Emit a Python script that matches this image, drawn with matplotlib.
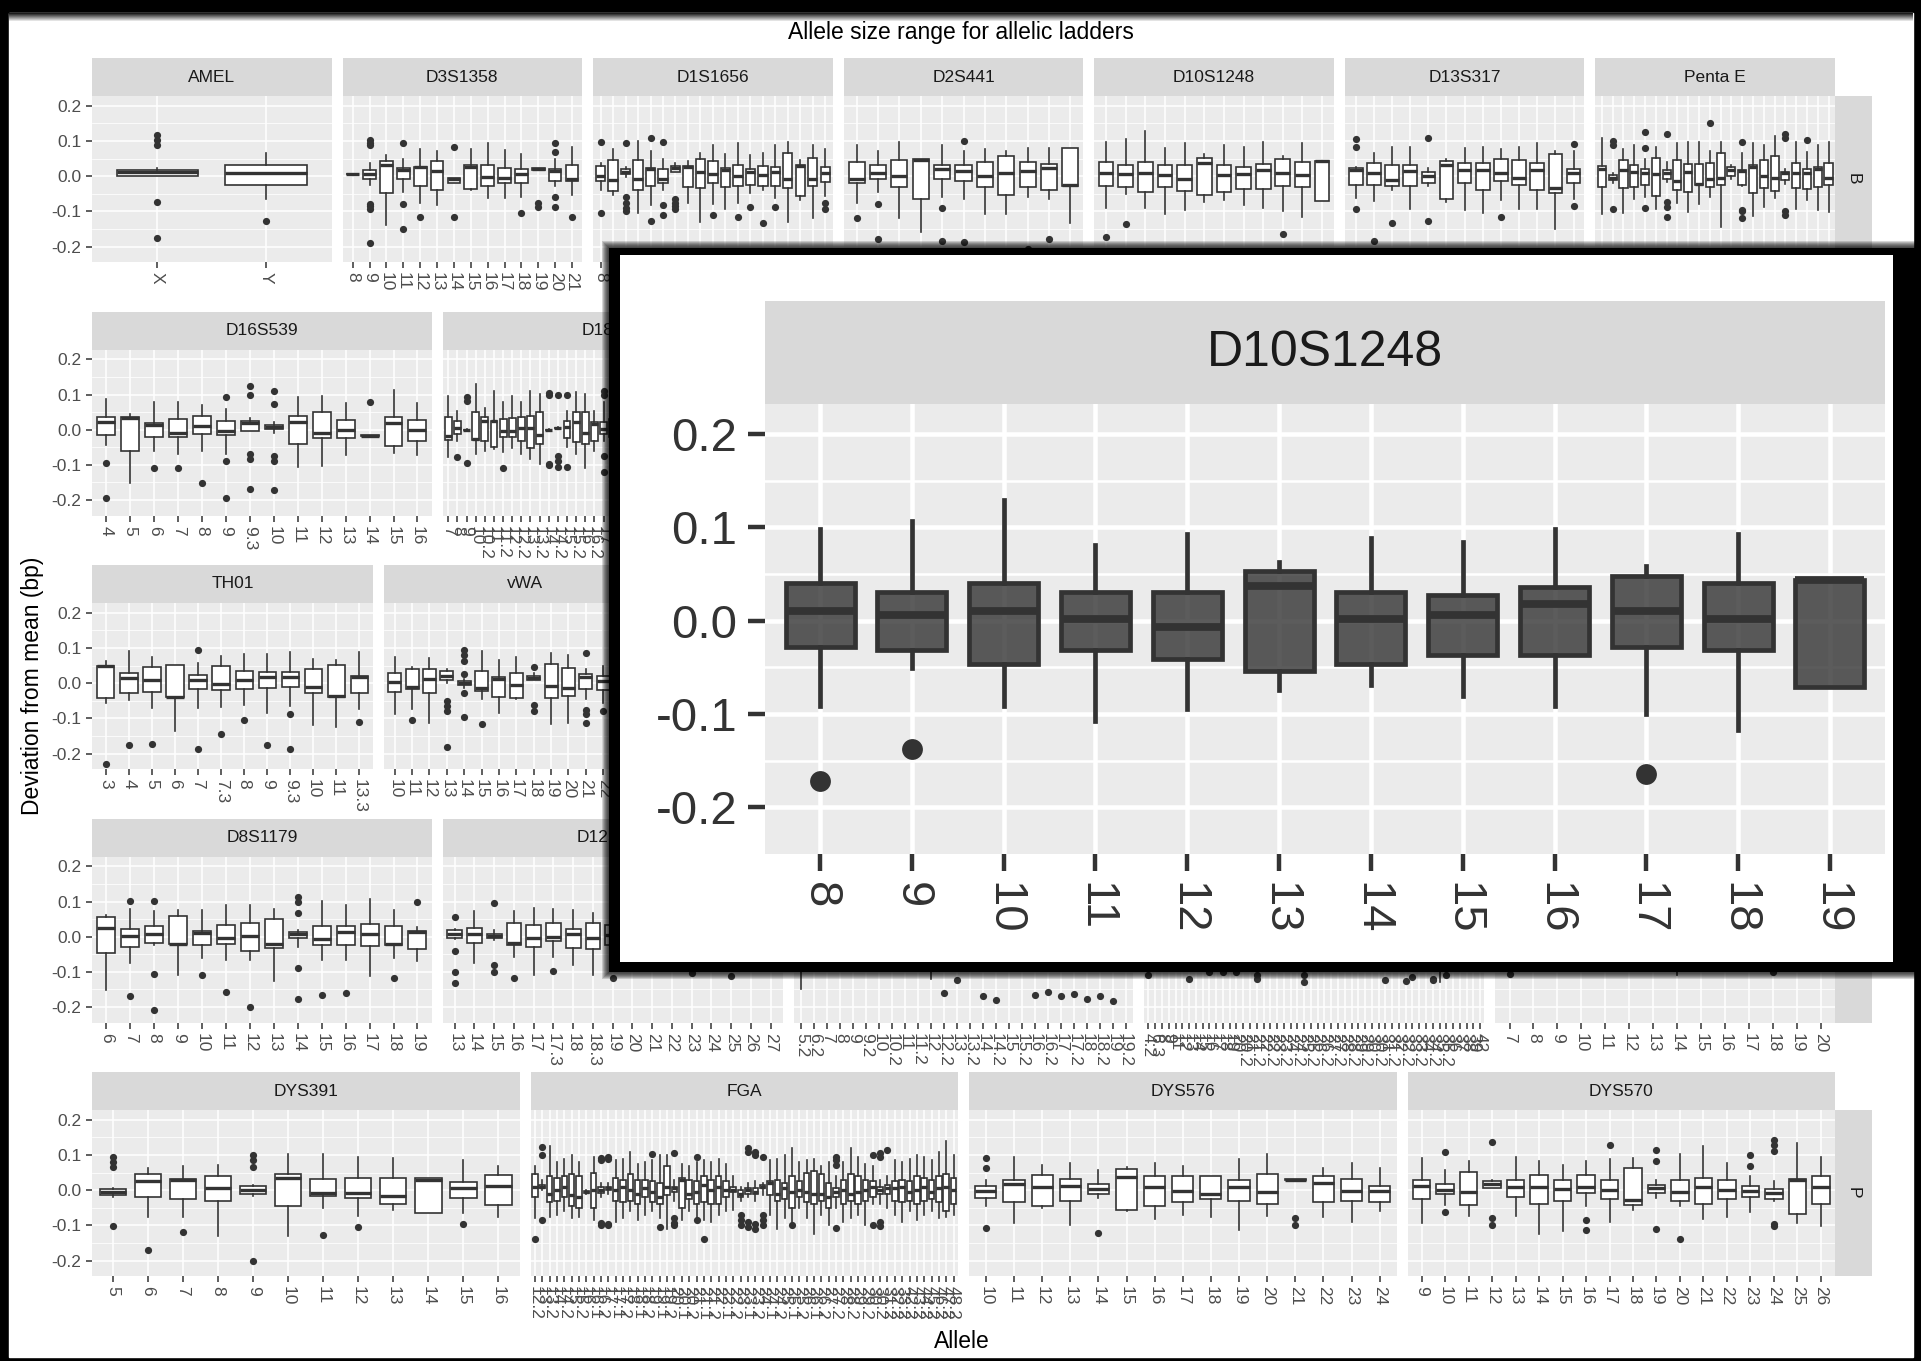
import matplotlib
matplotlib.use("Agg")
import matplotlib.pyplot as plt
from matplotlib.patches import Rectangle

plt.rcParams['font.family'] = ['Liberation Sans', 'DejaVu Sans']

# ---------------------------------------------------------------------------
# data: for every locus the allele labels, box stats (lo, q1, med, q3, hi)
# and the outliers per allele (deviation from mean, bp)
# ---------------------------------------------------------------------------
AMEL_alleles = ['X', 'Y']
AMEL_box = [(0.000, 0.000, 0.013, 0.019, 0.024), (-0.065, -0.025, 0.010, 0.032, 0.067)]
AMEL_out = [[0.116, 0.104, 0.090, -0.074, -0.177], [-0.127]]

D3S1358_alleles = ['8', '9', '10', '11', '12', '13', '14', '15', '16', '17', '18', '19', '20', '21']
D3S1358_box = [
    (0.005, 0.005, 0.005, 0.005, 0.005), (-0.026, -0.009, 0.006, 0.019, 0.038),
    (-0.139, -0.049, 0.031, 0.043, 0.060), (-0.045, -0.009, 0.017, 0.022, 0.050),
    (-0.076, -0.027, 0.025, 0.027, 0.076), (-0.082, -0.040, 0.015, 0.043, 0.071),
    (-0.019, -0.019, -0.009, -0.005, -0.005), (-0.040, -0.037, 0.025, 0.033, 0.076),
    (-0.063, -0.027, -0.002, 0.031, 0.093), (-0.063, -0.019, -0.004, 0.024, 0.074),
    (-0.059, -0.019, 0.006, 0.020, 0.064), (0.018, 0.018, 0.021, 0.023, 0.023),
    (-0.027, -0.014, 0.015, 0.020, 0.050), (-0.054, -0.014, -0.008, 0.031, 0.083)]
D3S1358_out = [[], [0.102, 0.095, 0.088, -0.078, -0.086, -0.094, -0.190], [], [0.093, -0.078, -0.149],
               [-0.116], [], [0.083, -0.116], [], [], [], [-0.106], [-0.075, -0.088],
               [0.093, 0.069, -0.059, -0.089], [-0.116]]

D1S1656_alleles = ['8', '9', '10', '11', '12', '13', '14', '14.3', '15', '15.3', '16', '16.3',
                   '17', '17.3', '18', '18.3', '19', '19.3', '20.3']
D1S1656_box = [
    (-0.040, -0.013, 0.000, 0.028, 0.038), (-0.054, -0.043, -0.011, 0.045, 0.076),
    (-0.002, 0.005, 0.012, 0.020, 0.027), (-0.104, -0.038, -0.007, 0.045, 0.100),
    (-0.082, -0.027, 0.020, 0.024, 0.071), (-0.040, -0.019, -0.007, 0.020, 0.050),
    (0.012, 0.012, 0.024, 0.028, 0.038), (-0.075, -0.030, 0.027, 0.028, 0.043),
    (-0.130, -0.035, 0.012, 0.050, 0.067), (-0.078, -0.019, 0.006, 0.043, 0.090),
    (-0.092, -0.030, 0.017, 0.024, 0.064), (-0.075, -0.027, 0.000, 0.033, 0.093),
    (-0.049, -0.024, 0.012, 0.020, 0.060), (-0.040, -0.027, 0.003, 0.028, 0.067),
    (-0.063, -0.027, 0.012, 0.027, 0.088), (-0.130, -0.035, -0.009, 0.067, 0.098),
    (-0.068, -0.057, 0.028, 0.031, 0.045), (-0.120, -0.027, -0.009, 0.053, 0.088),
    (-0.057, -0.016, 0.009, 0.025, 0.076)]
D1S1656_out = [[0.098, -0.104], [], [0.093, -0.060, -0.075, -0.090, -0.100], [], [0.110, -0.128],
               [0.098, -0.082, -0.111], [-0.065, -0.075, -0.085, -0.092], [], [], [-0.111], [],
               [-0.116], [-0.089], [-0.133], [-0.089], [], [], [], [-0.075, -0.094]]

D2S441_alleles = ['9', '10', '11', '11.3', '12', '13', '14', '15', '16', '17', '18']
D2S441_box = [
    (-0.075, -0.019, -0.007, 0.041, 0.088), (-0.045, -0.009, 0.008, 0.031, 0.071),
    (-0.120, -0.032, 0.000, 0.045, 0.098), (-0.158, -0.065, 0.047, 0.048, 0.048),
    (-0.059, -0.009, 0.020, 0.031, 0.088), (-0.065, -0.014, 0.015, 0.031, 0.071),
    (-0.108, -0.032, 0.000, 0.041, 0.076), (-0.108, -0.054, 0.009, 0.058, 0.071),
    (-0.059, -0.032, 0.015, 0.041, 0.080), (-0.065, -0.040, 0.022, 0.036, 0.080),
    (-0.134, -0.027, -0.026, 0.079, 0.079)]
D2S441_out = [[-0.120], [-0.078, -0.180], [], [], [-0.090, -0.184], [0.100, -0.188], [], [],
              [-0.208], [-0.180], []]

D10S1248_alleles = ['8', '9', '10', '11', '12', '13', '14', '15', '16', '17', '18', '19']
D10S1248_box = [
    (-0.091, -0.028, 0.010, 0.040, 0.098), (-0.051, -0.032, 0.006, 0.031, 0.107),
    (-0.091, -0.046, 0.010, 0.040, 0.129), (-0.108, -0.032, 0.002, 0.031, 0.081),
    (-0.095, -0.041, -0.007, 0.031, 0.093), (-0.074, -0.054, 0.037, 0.053, 0.063),
    (-0.069, -0.046, 0.002, 0.031, 0.088), (-0.081, -0.037, 0.006, 0.027, 0.084),
    (-0.091, -0.037, 0.018, 0.036, 0.098), (-0.100, -0.028, 0.010, 0.048, 0.058),
    (-0.117, -0.032, 0.002, 0.040, 0.093), (-0.071, -0.071, 0.044, 0.044, 0.044)]
D10S1248_out = [[-0.172], [-0.137], [], [], [], [], [], [], [], [-0.164], [], []]

D13S317_alleles = ['5', '6', '7', '8', '9', '10', '11', '12', '13', '14', '15', '16', '17']
D13S317_box = [
    (-0.063, -0.024, 0.017, 0.022, 0.027), (-0.070, -0.024, 0.009, 0.038, 0.067),
    (-0.040, -0.027, -0.011, 0.031, 0.083), (-0.092, -0.027, 0.015, 0.033, 0.083),
    (-0.027, -0.019, 0.000, 0.012, 0.022), (-0.073, -0.065, 0.031, 0.043, 0.050),
    (-0.097, -0.019, 0.017, 0.038, 0.080), (-0.104, -0.040, 0.017, 0.038, 0.083),
    (-0.068, -0.014, 0.008, 0.050, 0.076), (-0.092, -0.024, -0.004, 0.045, 0.083),
    (-0.094, -0.040, 0.017, 0.038, 0.093), (-0.149, -0.049, -0.033, 0.063, 0.071),
    (-0.065, -0.019, 0.008, 0.020, 0.072)]
D13S317_out = [[0.107, 0.083, -0.094], [-0.184], [-0.133], [], [0.109, -0.128], [], [], [],
               [-0.116], [], [], [], [0.091, -0.085]]

PentaE_alleles = ['5', '6', '7', '8', '9', '10', '11', '12', '13', '13.2', '14', '15', '16',
                  '17', '18', '19', '20', '21', '22', '23', '24', '25']
PentaE_box = [
    (-0.108, -0.030, 0.020, 0.028, 0.110), (-0.019, -0.011, -0.004, 0.003, 0.008),
    (-0.104, -0.035, 0.019, 0.045, 0.076), (-0.065, -0.032, 0.012, 0.033, 0.088),
    (-0.059, -0.024, 0.009, 0.020, 0.050), (-0.092, -0.057, 0.006, 0.053, 0.083),
    (-0.016, -0.007, 0.008, 0.017, 0.041), (-0.075, -0.040, -0.013, 0.045, 0.093),
    (-0.101, -0.045, 0.012, 0.036, 0.098), (-0.080, -0.024, -0.021, 0.036, 0.098),
    (-0.059, -0.032, -0.007, 0.038, 0.071), (-0.144, -0.024, -0.004, 0.067, 0.098),
    (-0.007, 0.000, 0.017, 0.027, 0.033), (-0.027, -0.024, 0.015, 0.017, 0.067),
    (-0.114, -0.049, 0.027, 0.031, 0.093), (-0.087, -0.035, 0.000, 0.045, 0.088),
    (-0.063, -0.043, -0.004, 0.058, 0.114), (-0.021, -0.011, 0.008, 0.012, 0.020),
    (-0.092, -0.035, 0.009, 0.038, 0.098), (-0.068, -0.037, 0.009, 0.020, 0.069),
    (-0.095, -0.032, 0.020, 0.025, 0.088), (-0.101, -0.024, -0.004, 0.038, 0.098)]
PentaE_out = [[], [0.100, 0.090, -0.094], [], [], [0.126, 0.079, -0.090], [],
              [0.121, -0.073, -0.087, -0.116], [], [], [], [0.152], [], [],
              [0.096, -0.095, -0.100, -0.120], [], [], [], [0.120, 0.110, -0.100, -0.110], [],
              [0.104], [], []]

D16S539_alleles = ['4', '5', '6', '7', '8', '9', '9.3', '10', '11', '12', '13', '14', '15', '16']
D16S539_box = [
    (-0.043, -0.015, 0.021, 0.037, 0.088), (-0.153, -0.060, 0.033, 0.037, 0.045),
    (-0.060, -0.020, 0.014, 0.018, 0.078), (-0.068, -0.020, -0.010, 0.030, 0.078),
    (-0.060, -0.012, 0.011, 0.040, 0.071), (-0.070, -0.015, -0.005, 0.024, 0.059),
    (-0.003, -0.003, 0.019, 0.024, 0.033), (-0.010, 0.002, 0.009, 0.014, 0.021),
    (-0.106, -0.041, 0.021, 0.040, 0.092), (-0.103, -0.024, -0.010, 0.050, 0.097),
    (-0.072, -0.024, 0.000, 0.028, 0.075), (-0.019, -0.019, -0.017, -0.016, -0.016),
    (-0.065, -0.046, 0.018, 0.035, 0.113), (-0.072, -0.033, 0.000, 0.028, 0.075)]
D16S539_out = [[-0.096, -0.195], [], [-0.110], [-0.110], [-0.152], [0.094, -0.089, -0.195],
               [0.124, 0.099, -0.070, -0.084, -0.170], [0.110, 0.073, -0.074, -0.089, -0.172],
               [], [], [], [0.078], [], []]

D18S51_alleles = ['7', '8', '9', '10', '10.2', '11', '11.2', '12', '12.2', '13', '13.2', '14',
                  '14.2', '15', '15.2', '16', '16.2', '17', '17.2', '18', '18.2', '19', '19.2',
                  '20', '20.2', '21', '21.2', '22', '22.2', '23', '23.2', '24', '24.2', '25',
                  '26', '27', '28']
D18S51_box = [
    (-0.079, -0.029, -0.017, 0.037, 0.097), (-0.031, -0.012, 0.005, 0.024, 0.054),
    (-0.003, -0.002, -0.001, 0.000, 0.001), (-0.069, -0.028, -0.027, 0.049, 0.130),
    (-0.060, -0.031, 0.024, 0.035, 0.063), (-0.055, -0.050, 0.024, 0.024, 0.111),
    (-0.064, -0.022, -0.003, 0.030, 0.078), (-0.052, -0.022, -0.003, 0.033, 0.097),
    (-0.069, -0.031, 0.005, 0.035, 0.078), (-0.083, -0.052, 0.005, 0.040, 0.111),
    (-0.098, -0.041, -0.014, 0.049, 0.101), (-0.003, -0.002, -0.001, 0.000, 0.001),
    (0.003, 0.004, 0.005, 0.006, 0.007), (-0.050, -0.024, 0.009, 0.026, 0.054),
    (-0.069, -0.036, 0.021, 0.049, 0.106), (-0.109, -0.041, -0.008, 0.049, 0.101),
    (-0.060, -0.031, 0.016, 0.021, 0.054), (-0.031, -0.012, 0.002, 0.021, 0.078),
    (-0.060, -0.022, 0.005, 0.030, 0.082)]
D18S51_out = [[], [-0.079], [0.092, 0.082, -0.096], [], [], [], [-0.109], [], [], [], [],
              [0.105, 0.100, -0.098, -0.100], [0.100, -0.075, -0.090, -0.105], [0.100, -0.105],
              [], [], [], [0.110, 0.100, -0.074, -0.121], []]

# loci lying completely under the zoom inset
D2S1338_alleles = ['10', '12', '14', '15', '16', '17', '18', '19', '20', '21', '22', '23', '24',
                   '25', '26', '27', '28']
CSF1PO_alleles = ['6', '7', '8', '9', '10', '11', '12', '13', '14', '15']
PentaD_alleles = ['2.2', '3.2', '5', '6', '7', '8', '9', '10', '11', '12', '13', '14', '15', '16', '17']
D21S11_alleles = ['24', '24.2', '25', '26', '27', '28', '28.2', '29', '29.2', '30', '30.2', '31',
                  '31.2', '32', '32.2', '33', '33.2', '34', '34.2', '35', '35.2', '36', '37', '38']
D7S820_alleles = ['6', '7', '8', '9', '10', '11', '12', '13', '14']
D5S818_alleles = ['7', '8', '9', '10', '11', '12', '13', '14', '15', '16']
TPOX_alleles = ['5', '6', '7', '8', '9', '10', '11', '12', '13']

TH01_alleles = ['3', '4', '5', '6', '7', '7.3', '8', '9', '9.3', '10', '11', '13.3']
TH01_box = [
    (-0.055, -0.043, 0.048, 0.050, 0.064), (-0.048, -0.029, 0.014, 0.029, 0.092),
    (-0.071, -0.025, 0.009, 0.045, 0.075), (-0.136, -0.038, -0.038, 0.052, 0.052),
    (-0.071, -0.017, 0.010, 0.024, 0.057), (-0.068, -0.020, -0.003, 0.048, 0.078),
    (-0.063, -0.017, 0.010, 0.035, 0.083), (-0.086, -0.015, 0.019, 0.032, 0.083),
    (-0.065, -0.010, 0.019, 0.032, 0.090), (-0.119, -0.029, -0.010, 0.040, 0.069),
    (-0.124, -0.038, -0.036, 0.052, 0.066), (-0.074, -0.029, 0.019, 0.021, 0.090)]
TH01_out = [[-0.229], [-0.177], [-0.172], [], [0.095, -0.186], [-0.144], [-0.105], [-0.177],
            [-0.089, -0.186], [], [], [-0.110]]

vWA_alleles = ['10', '11', '12', '13', '14', '15', '16', '17', '18', '19', '20', '21', '22',
               '23', '24', '25']
vWA_box = [
    (-0.089, -0.025, 0.004, 0.029, 0.075), (-0.074, -0.017, -0.010, 0.040, 0.045),
    (-0.114, -0.029, 0.013, 0.040, 0.071), (0.000, 0.010, 0.020, 0.034, 0.040),
    (-0.015, -0.004, 0.001, 0.006, 0.012), (-0.046, -0.021, -0.013, 0.034, 0.091),
    (-0.084, -0.039, 0.013, 0.018, 0.067), (-0.044, -0.042, -0.004, 0.029, 0.074),
    (0.010, 0.010, 0.015, 0.020, 0.030), (-0.117, -0.042, -0.009, 0.055, 0.086),
    (-0.113, -0.037, -0.013, 0.044, 0.081), (-0.046, -0.016, 0.018, 0.025, 0.039),
    (-0.056, -0.018, 0.006, 0.020, 0.048)]
vWA_out = [[], [-0.105], [], [-0.051, -0.065, -0.080, -0.182],
           [0.093, 0.079, 0.064, 0.025, -0.028, -0.096], [-0.117], [], [], [0.045, -0.061, -0.080],
           [], [], [0.086, -0.075, -0.089, -0.113], [-0.080]]

D8S1179_alleles = ['6', '7', '8', '9', '10', '11', '12', '13', '14', '15', '16', '17', '18', '19']
D8S1179_box = [
    (-0.151, -0.047, 0.026, 0.055, 0.063), (-0.075, -0.030, 0.002, 0.022, 0.080),
    (-0.024, -0.019, 0.009, 0.030, 0.073), (-0.108, -0.022, -0.022, 0.059, 0.075),
    (-0.061, -0.024, 0.011, 0.017, 0.077), (-0.066, -0.022, -0.005, 0.033, 0.090),
    (-0.066, -0.041, 0.002, 0.038, 0.090), (-0.125, -0.031, -0.022, 0.050, 0.080),
    (-0.028, -0.005, 0.007, 0.014, 0.019), (-0.066, -0.024, -0.007, 0.030, 0.102),
    (-0.066, -0.024, 0.014, 0.030, 0.090), (-0.111, -0.026, 0.008, 0.035, 0.106),
    (-0.061, -0.024, -0.022, 0.030, 0.077), (-0.069, -0.035, 0.014, 0.017, 0.028)]
D8S1179_out = [[], [0.101, -0.170], [0.101, -0.107, -0.208], [], [-0.110], [-0.158], [-0.200],
               [], [0.113, 0.100, 0.066, -0.090, -0.177], [-0.165], [-0.161], [], [-0.118], [0.099]]

D12S391_alleles = ['13', '14', '15', '16', '17', '17.3', '18', '18.3', '19', '20', '21', '22',
                   '23', '24', '25', '26', '27']
D12S391_box = [
    (-0.007, -0.005, 0.008, 0.019, 0.021), (-0.075, -0.019, 0.008, 0.025, 0.073),
    (-0.009, -0.005, 0.002, 0.009, 0.019), (-0.057, -0.024, -0.019, 0.038, 0.073),
    (-0.108, -0.028, -0.005, 0.033, 0.082), (-0.057, -0.012, 0.000, 0.038, 0.080),
    (-0.080, -0.033, 0.007, 0.022, 0.075), (-0.108, -0.035, -0.005, 0.038, 0.068),
    (-0.061, -0.024, 0.005, 0.033, 0.080), (-0.085, -0.030, 0.000, 0.030, 0.080),
    (-0.070, -0.025, 0.005, 0.035, 0.075), (-0.090, -0.035, 0.000, 0.030, 0.085),
    (-0.075, -0.030, -0.005, 0.030, 0.080), (-0.080, -0.025, 0.000, 0.035, 0.070),
    (-0.070, -0.030, 0.005, 0.030, 0.075), (-0.060, -0.020, 0.000, 0.025, 0.070),
    (-0.065, -0.025, 0.005, 0.030, 0.065)]
D12S391_out = [[0.055, -0.042, -0.101, -0.132], [], [0.096, -0.080, -0.099], [-0.118], [],
               [-0.097], [], [], [-0.118], [], [], [], [-0.102], [], [-0.113], [], []]

D19S433_alleles = ['5.2', '6.2', '7', '8', '9', '9.2', '10', '10.2', '11', '11.2', '12', '12.2',
                   '13', '13.2', '14', '14.2', '15', '15.2', '16', '16.2', '17', '17.2', '18',
                   '18.2', '19', '19.2']
D19S433_box = [
    (-0.148, -0.030, 0.000, 0.035, 0.080), (-0.090, -0.020, 0.010, 0.030, 0.090),
    (-0.070, -0.030, -0.005, 0.030, 0.080), (-0.080, -0.025, 0.005, 0.035, 0.075),
    (-0.060, -0.020, 0.010, 0.025, 0.070), (-0.075, -0.035, 0.000, 0.040, 0.090),
    (-0.085, -0.030, -0.010, 0.030, 0.080), (-0.070, -0.025, 0.005, 0.030, 0.085),
    (-0.080, -0.030, 0.000, 0.035, 0.090), (-0.065, -0.020, 0.010, 0.025, 0.070),
    (-0.120, -0.040, 0.000, 0.040, 0.095), (-0.090, -0.030, 0.005, 0.030, 0.080),
    (-0.080, -0.025, 0.000, 0.030, 0.075), (-0.075, -0.030, -0.005, 0.035, 0.085),
    (-0.085, -0.030, 0.000, 0.030, 0.080), (-0.080, -0.025, 0.005, 0.035, 0.090),
    (-0.070, -0.030, 0.000, 0.030, 0.075), (-0.090, -0.035, -0.005, 0.030, 0.085),
    (-0.080, -0.025, 0.005, 0.030, 0.080), (-0.075, -0.030, 0.000, 0.035, 0.090),
    (-0.085, -0.030, 0.005, 0.030, 0.080), (-0.070, -0.025, 0.000, 0.030, 0.075),
    (-0.080, -0.030, -0.005, 0.035, 0.085), (-0.075, -0.025, 0.000, 0.030, 0.080),
    (-0.090, -0.035, 0.005, 0.035, 0.090), (-0.070, -0.030, 0.000, 0.030, 0.075)]
D19S433_out = [[], [], [], [], [], [], [], [], [], [], [], [-0.159], [-0.122], [], [-0.170],
               [-0.180], [], [], [-0.165], [-0.158], [-0.170], [-0.163], [-0.178], [-0.168],
               [-0.182], []]

SE33_alleles = ['4.2', '6.3', '8', '9', '11', '12', '13', '14', '15', '16', '17', '18', '19',
                '20', '20.2', '21', '21.2', '22', '22.2', '23', '23.2', '24', '24.2', '25',
                '25.2', '26', '26.2', '27', '27.2', '28', '28.2', '29', '29.2', '30', '30.2',
                '31', '31.2', '32', '32.2', '33', '33.2', '34', '34.2', '35', '35.2', '36',
                '37', '38', '39', '42']
SE33_box = [
    (-0.060, -0.020, 0.005, 0.030, 0.070), (-0.080, -0.030, 0.000, 0.035, 0.085),
    (-0.070, -0.025, 0.010, 0.030, 0.080), (-0.090, -0.035, -0.005, 0.040, 0.090),
    (-0.075, -0.030, 0.000, 0.030, 0.075), (-0.080, -0.025, 0.005, 0.035, 0.080),
    (-0.070, -0.030, 0.000, 0.030, 0.085), (-0.085, -0.035, -0.010, 0.030, 0.090),
    (-0.060, -0.020, 0.005, 0.025, 0.070), (-0.075, -0.030, 0.000, 0.035, 0.080),
    (-0.050, -0.020, 0.000, 0.020, 0.060), (-0.080, -0.030, 0.005, 0.035, 0.085),
    (-0.050, -0.015, 0.000, 0.020, 0.055), (-0.085, -0.035, -0.005, 0.030, 0.080),
    (-0.060, -0.020, 0.005, 0.025, 0.065), (-0.075, -0.030, 0.000, 0.035, 0.090),
    (-0.070, -0.025, 0.005, 0.030, 0.075), (-0.060, -0.020, 0.000, 0.025, 0.070),
    (-0.085, -0.035, -0.005, 0.040, 0.090), (-0.075, -0.030, 0.000, 0.030, 0.080),
    (-0.070, -0.025, 0.010, 0.035, 0.085), (-0.080, -0.030, 0.000, 0.030, 0.075),
    (-0.075, -0.025, 0.005, 0.035, 0.080), (-0.060, -0.020, 0.000, 0.025, 0.070),
    (-0.085, -0.035, -0.005, 0.030, 0.085), (-0.075, -0.030, 0.000, 0.035, 0.090),
    (-0.070, -0.025, 0.005, 0.030, 0.075), (-0.080, -0.030, 0.000, 0.030, 0.080),
    (-0.075, -0.025, 0.010, 0.035, 0.085), (-0.065, -0.020, 0.000, 0.025, 0.070),
    (-0.085, -0.035, -0.005, 0.040, 0.090), (-0.075, -0.030, 0.000, 0.030, 0.080),
    (-0.070, -0.025, 0.005, 0.035, 0.075), (-0.080, -0.030, 0.000, 0.030, 0.085),
    (-0.075, -0.025, 0.005, 0.035, 0.080), (-0.060, -0.020, 0.000, 0.025, 0.070),
    (-0.085, -0.035, -0.005, 0.030, 0.085), (-0.075, -0.030, 0.000, 0.035, 0.090),
    (-0.070, -0.025, 0.005, 0.030, 0.075), (-0.080, -0.030, 0.000, 0.030, 0.080),
    (-0.075, -0.025, 0.010, 0.035, 0.085), (-0.065, -0.020, 0.000, 0.025, 0.070),
    (-0.085, -0.035, -0.005, 0.040, 0.090), (-0.130, -0.030, 0.000, 0.030, 0.080),
    (-0.070, -0.025, 0.005, 0.035, 0.075), (-0.080, -0.030, 0.000, 0.030, 0.085),
    (-0.075, -0.025, 0.005, 0.035, 0.080), (-0.060, -0.020, 0.000, 0.025, 0.070),
    (-0.085, -0.035, -0.005, 0.030, 0.085), (-0.075, -0.030, 0.000, 0.035, 0.090)]
SE33_out = [[-0.108], [], [], [], [], [], [-0.119], [], [], [-0.100], [], [-0.100], [], [-0.100],
            [], [], [-0.110, -0.120], [], [], [], [], [], [], [-0.110, -0.130], [], [], [], [],
            [], [], [], [], [], [], [], [-0.122], [], [], [-0.125], [-0.115], [], [],
            [-0.120, -0.123], [], [-0.110], [], [], [], [], []]

D22S1045_alleles = ['7', '8', '9', '10', '11', '12', '13', '14', '15', '16', '17', '18', '19', '20']
D22S1045_box = [
    (-0.070, -0.030, 0.000, 0.030, 0.080), (-0.080, -0.025, 0.005, 0.035, 0.075),
    (-0.065, -0.020, 0.010, 0.030, 0.085), (-0.085, -0.035, -0.005, 0.030, 0.080),
    (-0.070, -0.025, 0.000, 0.035, 0.090), (-0.075, -0.030, 0.005, 0.030, 0.075),
    (-0.060, -0.020, 0.000, 0.025, 0.070), (-0.108, -0.035, -0.005, 0.040, 0.090),
    (-0.075, -0.030, 0.000, 0.030, 0.080), (-0.070, -0.025, 0.005, 0.035, 0.085),
    (-0.080, -0.030, 0.000, 0.030, 0.075), (-0.065, -0.020, 0.005, 0.025, 0.070),
    (-0.085, -0.035, -0.005, 0.035, 0.090), (-0.070, -0.025, 0.000, 0.030, 0.080)]
D22S1045_out = [[-0.105], [], [], [], [], [], [], [], [], [], [], [-0.100], [], []]

DYS391_alleles = ['5', '6', '7', '8', '9', '10', '11', '12', '13', '14', '15', '16']
DYS391_box = [
    (-0.019, -0.014, -0.006, 0.004, 0.007), (-0.076, -0.020, 0.026, 0.045, 0.064),
    (-0.076, -0.025, 0.028, 0.032, 0.070), (-0.129, -0.030, 0.005, 0.040, 0.071),
    (-0.017, -0.012, 0.000, 0.011, 0.016), (-0.131, -0.046, 0.035, 0.045, 0.104),
    (-0.050, -0.017, -0.008, 0.032, 0.104), (-0.074, -0.022, -0.008, 0.035, 0.094),
    (-0.055, -0.038, -0.017, 0.035, 0.092), (-0.065, -0.065, 0.030, 0.035, 0.035),
    (-0.065, -0.022, 0.005, 0.024, 0.085), (-0.077, -0.043, 0.011, 0.043, 0.070)]
DYS391_out = [[0.094, 0.080, 0.065, -0.101], [-0.170], [-0.119], [], [0.100, 0.085, 0.066, -0.200],
              [], [-0.127], [-0.105], [], [], [-0.096], []]

FGA_alleles = ['12.2', '13', '13.2', '14', '14.2', '15', '15.2', '16', '16.1', '16.2', '17',
               '17.1', '17.2', '18', '18.1', '18.2', '19', '19.1', '19.2', '20', '20.1', '20.2',
               '21', '21.1', '21.2', '22', '22.1', '22.2', '23', '23.1', '23.2', '24', '24.1',
               '24.2', '25', '25.1', '25.2', '26', '26.1', '26.2', '27', '27.2', '28', '28.2',
               '29', '29.2', '30', '30.2', '31.2', '32.2', '33.2', '42.2', '43.2', '44.2',
               '45.2', '46.2', '47.2', '48.2']
FGA_box = [
    (-0.080, -0.019, 0.010, 0.045, 0.070), (0.000, 0.005, 0.010, 0.015, 0.030),
    (-0.075, -0.035, -0.010, 0.040, 0.125), (-0.070, -0.030, 0.000, 0.035, 0.080),
    (-0.060, -0.020, 0.010, 0.040, 0.090), (-0.080, -0.045, -0.015, 0.045, 0.100),
    (-0.075, -0.050, -0.020, 0.040, 0.080), (-0.010, -0.008, -0.005, -0.002, 0.000),
    (-0.085, -0.050, 0.000, 0.050, 0.095), (-0.020, -0.008, 0.000, 0.010, 0.020),
    (-0.010, 0.000, 0.005, 0.010, 0.020), (-0.090, -0.030, 0.000, 0.035, 0.085),
    (-0.080, -0.035, 0.010, 0.030, 0.090), (-0.060, -0.030, 0.000, 0.045, 0.110),
    (-0.085, -0.040, -0.010, 0.030, 0.075), (-0.070, -0.020, 0.005, 0.030, 0.080),
    (-0.060, -0.035, -0.005, 0.025, 0.085), (-0.080, -0.040, -0.020, 0.020, 0.100),
    (-0.110, -0.015, 0.010, 0.070, 0.100), (-0.030, -0.005, 0.005, 0.010, 0.030),
    (-0.085, -0.050, 0.030, 0.035, 0.075), (-0.060, -0.025, -0.010, 0.030, 0.070),
    (-0.085, -0.040, -0.005, 0.025, 0.080), (-0.085, -0.035, 0.015, 0.040, 0.085),
    (-0.090, -0.040, 0.000, 0.030, 0.080), (-0.070, -0.040, 0.010, 0.040, 0.090),
    (-0.060, -0.020, 0.000, 0.025, 0.075), (-0.055, -0.005, 0.000, 0.010, 0.040),
    (-0.030, -0.020, -0.010, 0.000, 0.010), (-0.020, -0.010, 0.000, 0.005, 0.020),
    (-0.030, -0.010, -0.005, 0.005, 0.025), (-0.015, 0.005, 0.010, 0.015, 0.020),
    (-0.070, -0.015, 0.020, 0.025, 0.085), (-0.110, -0.030, -0.010, 0.030, 0.090),
    (-0.080, -0.025, 0.005, 0.020, 0.100), (-0.090, -0.050, -0.005, 0.040, 0.120),
    (-0.050, -0.020, 0.000, 0.025, 0.080), (-0.080, -0.035, -0.005, 0.050, 0.085),
    (-0.125, -0.040, -0.010, 0.055, 0.090), (-0.070, -0.030, -0.010, 0.045, 0.070),
    (-0.100, -0.050, -0.020, 0.020, 0.080), (-0.050, -0.020, -0.005, 0.005, 0.040),
    (-0.090, -0.040, 0.000, 0.030, 0.080), (-0.080, -0.030, -0.010, 0.045, 0.120),
    (-0.070, -0.040, -0.005, 0.040, 0.095), (-0.100, -0.030, 0.000, 0.030, 0.075),
    (-0.040, -0.020, 0.010, 0.025, 0.070), (-0.040, -0.010, 0.000, 0.010, 0.030),
    (-0.050, -0.010, 0.005, 0.015, 0.040), (-0.070, -0.030, 0.005, 0.025, 0.085),
    (-0.090, -0.035, 0.010, 0.030, 0.080), (-0.060, -0.030, -0.005, 0.025, 0.090),
    (-0.085, -0.040, 0.000, 0.040, 0.100), (-0.070, -0.030, 0.010, 0.035, 0.095),
    (-0.060, -0.025, -0.005, 0.030, 0.085), (-0.080, -0.035, 0.005, 0.040, 0.110),
    (-0.075, -0.060, 0.010, 0.045, 0.140), (-0.070, -0.040, 0.000, 0.035, 0.100)]
FGA_out = [[-0.139], [0.122, 0.100, -0.084], [], [], [], [], [], [], [],
           [0.092, 0.086, -0.092, -0.098], [0.094, 0.088, -0.095, -0.100], [], [], [], [], [],
           [0.102], [-0.105], [], [0.105, -0.080, -0.092, -0.100], [], [], [0.094, -0.084],
           [-0.139], [], [], [], [], [-0.070, -0.085, -0.100], [0.120, 0.110, -0.090, -0.105],
           [0.110, 0.100, -0.095, -0.110], [0.095, -0.070, -0.085, -0.100], [], [], [],
           [-0.100], [], [], [], [], [], [0.094, 0.085, 0.073, -0.108], [], [], [], [],
           [0.100, -0.098], [0.105, 0.095, -0.090, -0.102], [0.114], [], [], [], [], [], [],
           [], [], []]

DYS576_alleles = ['10', '11', '12', '13', '14', '15', '16', '17', '18', '19', '20', '21', '22',
                  '23', '24']
DYS576_box = [
    (-0.046, -0.022, -0.003, 0.011, 0.030), (-0.093, -0.033, 0.019, 0.028, 0.094),
    (-0.050, -0.046, 0.009, 0.043, 0.073), (-0.098, -0.030, 0.013, 0.032, 0.078),
    (-0.022, -0.012, 0.004, 0.018, 0.057), (-0.058, -0.055, 0.038, 0.059, 0.066),
    (-0.081, -0.046, 0.009, 0.040, 0.078), (-0.070, -0.033, -0.001, 0.040, 0.070),
    (-0.077, -0.025, -0.010, 0.040, 0.040), (-0.112, -0.030, 0.009, 0.030, 0.088),
    (-0.072, -0.038, -0.006, 0.045, 0.104), (0.028, 0.028, 0.030, 0.032, 0.032),
    (-0.077, -0.033, 0.021, 0.040, 0.062), (-0.090, -0.030, -0.001, 0.032, 0.078),
    (-0.060, -0.033, -0.001, 0.011, 0.062)]
DYS576_out = [[0.092, 0.062, -0.108], [], [], [], [-0.122], [], [], [], [], [], [],
              [-0.079, -0.098], [], [], []]

DYS570_alleles = ['9', '10', '11', '12', '13', '14', '15', '16', '17', '18', '19', '20', '21',
                  '22', '23', '24', '25', '26']
DYS570_box = [
    (-0.093, -0.025, 0.011, 0.030, 0.092), (-0.043, -0.012, 0.000, 0.018, 0.057),
    (-0.072, -0.043, -0.005, 0.052, 0.083), (0.005, 0.005, 0.018, 0.026, 0.030),
    (-0.072, -0.020, 0.009, 0.030, 0.094), (-0.125, -0.038, 0.009, 0.043, 0.083),
    (-0.115, -0.030, 0.004, 0.030, 0.073), (-0.046, -0.008, 0.009, 0.043, 0.083),
    (-0.090, -0.025, 0.000, 0.028, 0.088), (-0.055, -0.043, -0.027, 0.062, 0.092),
    (-0.022, -0.008, 0.007, 0.014, 0.030), (-0.046, -0.030, -0.005, 0.028, 0.104),
    (-0.081, -0.038, 0.009, 0.035, 0.126), (-0.077, -0.025, 0.000, 0.028, 0.078),
    (-0.062, -0.020, -0.003, 0.011, 0.040), (-0.030, -0.025, -0.008, 0.002, 0.026),
    (-0.093, -0.068, 0.028, 0.032, 0.135), (-0.103, -0.038, 0.009, 0.040, 0.094)]
DYS570_out = [[], [0.109, -0.062], [], [0.138, -0.079, -0.098], [], [], [], [-0.084, -0.114],
              [0.129], [], [0.113, 0.083, -0.110], [-0.139], [], [], [0.100, 0.069],
              [0.142, 0.129, 0.111, -0.095, -0.102], [], []]

# rows of the layout (dye channel, loci)
ROW_B = [('AMEL', AMEL_alleles, AMEL_box, AMEL_out),
         ('D3S1358', D3S1358_alleles, D3S1358_box, D3S1358_out),
         ('D1S1656', D1S1656_alleles, D1S1656_box, D1S1656_out),
         ('D2S441', D2S441_alleles, D2S441_box, D2S441_out),
         ('D10S1248', D10S1248_alleles, D10S1248_box, D10S1248_out),
         ('D13S317', D13S317_alleles, D13S317_box, D13S317_out),
         ('Penta E', PentaE_alleles, PentaE_box, PentaE_out)]
ROW_G = [('D16S539', D16S539_alleles, D16S539_box, D16S539_out),
         ('D18S51', D18S51_alleles, D18S51_box, D18S51_out),
         ('D2S1338', D2S1338_alleles, None, None),
         ('CSF1PO', CSF1PO_alleles, None, None),
         ('Penta D', PentaD_alleles, None, None)]
ROW_Y = [('TH01', TH01_alleles, TH01_box, TH01_out),
         ('vWA', vWA_alleles, vWA_box, vWA_out),
         ('D21S11', D21S11_alleles, None, None),
         ('D7S820', D7S820_alleles, None, None),
         ('D5S818', D5S818_alleles, None, None),
         ('TPOX', TPOX_alleles, None, None)]
ROW_R = [('D8S1179', D8S1179_alleles, D8S1179_box, D8S1179_out),
         ('D12S391', D12S391_alleles, D12S391_box, D12S391_out),
         ('D19S433', D19S433_alleles, D19S433_box, D19S433_out),
         ('SE33', SE33_alleles, SE33_box, SE33_out),
         ('D22S1045', D22S1045_alleles, D22S1045_box, D22S1045_out)]
ROW_P = [('DYS391', DYS391_alleles, DYS391_box, DYS391_out),
         ('FGA', FGA_alleles, FGA_box, FGA_out),
         ('DYS576', DYS576_alleles, DYS576_box, DYS576_out),
         ('DYS570', DYS570_alleles, DYS570_box, DYS570_out)]
ROWS = [('B', ROW_B), ('G', ROW_G), ('Y', ROW_Y), ('R', ROW_R), ('P', ROW_P)]

Y_TICKS = [-0.2, -0.1, 0.0, 0.1, 0.2]
Y_TICKLABELS = ['-0.2', '-0.1', '0.0', '0.1', '0.2']
Y_MINOR = [-0.15, -0.05, 0.05, 0.15]

# ---------------------------------------------------------------------------
W, H = 1921, 1361
fig = plt.figure(figsize=(W / 100, H / 100), dpi=100, facecolor='black')


def px_axes(x, y, w, h, z=1):
    return fig.add_axes([x / W, 1 - (y + h) / H, w / W, h / H], zorder=z)


MAIN = dict(lw=1.2, med=2.4, ms=5.2, fill='white', alpha=1.0, grid=1.1, minor=0.55,
            fs=12.5, tlen=4.5, twid=1.1, pad=3)
ZOOM = dict(lw=3.4, med=5.6, ms=15, fill='#333333', alpha=0.8, grid=3.3, minor=1.8,
            fs=34, tlen=12, twid=3.2, pad=8)


def draw_panel(ax, alleles, box, out, ylim, st, first):
    n = len(alleles)
    ax.set_facecolor('#EBEBEB')
    for s in ax.spines.values():
        s.set_visible(False)
    ax.set_xlim(0.4, n + 0.6)
    ax.set_ylim(*ylim)
    ax.set_xticks(range(1, n + 1))
    ax.set_xticklabels(alleles, rotation=270, ha='center', va='top')
    ax.set_yticks(Y_TICKS)
    ax.set_yticklabels(Y_TICKLABELS)
    ax.set_yticks(Y_MINOR, minor=True)
    ax.set_axisbelow(True)
    ax.grid(which='major', color='white', linewidth=st['grid'])
    ax.grid(which='minor', axis='y', color='white', linewidth=st['minor'])
    ax.tick_params(which='major', length=st['tlen'], width=st['twid'], color='#333333',
                   labelcolor='#4D4D4D', labelsize=st['fs'], pad=st['pad'])
    ax.tick_params(which='minor', left=False, bottom=False)
    if not first:
        ax.tick_params(axis='y', left=False, labelleft=False)
    if box is None:
        return
    stats, pos = [], []
    for i, b in enumerate(box):
        if b is None:
            continue
        lo, q1, med, q3, hi = b
        stats.append(dict(whislo=lo, q1=q1, med=med, q3=q3, whishi=hi, fliers=out[i]))
        pos.append(i + 1)
    ax.bxp(stats, positions=pos, widths=0.75, patch_artist=True, showcaps=False,
           boxprops=dict(facecolor=st['fill'], edgecolor='#333333', linewidth=st['lw']),
           medianprops=dict(color='#333333', linewidth=st['med'], solid_capstyle='butt'),
           whiskerprops=dict(color='#333333', linewidth=st['lw']),
           flierprops=dict(marker='o', markerfacecolor='#333333', markeredgecolor='none',
                           markersize=st['ms']),
           manage_ticks=False)
    if st['alpha'] < 1:
        for p in ax.patches:
            p.set_facecolor((0.2, 0.2, 0.2, st['alpha']))


def strip(x, y, w, h, label, fs, rot=0, z=1):
    a = px_axes(x, y, w, h, z)
    a.set_facecolor('#D9D9D9')
    a.set_xticks([])
    a.set_yticks([])
    for s in a.spines.values():
        s.set_visible(False)
    a.text(0.5, 0.5, label, ha='center', va='center', rotation=rot, fontsize=fs,
           color='#1A1A1A', transform=a.transAxes)
    return a


# background: screenshot frame
bg = fig.add_axes([0, 0, 1, 1], zorder=-5)
bg.set_xlim(0, W)
bg.set_ylim(H, 0)
bg.axis('off')
bg.add_patch(Rectangle((0, 0), W, H, color='black'))
bg.add_patch(Rectangle((9, 13), 1904, 1344, color='white'))
for k in range(8):
    bg.add_patch(Rectangle((9, 13 + k), 1904, 1.2, color='black', alpha=(8 - k) / 9, lw=0))

# facet rows
X0, X1, GAP = 92, 1835, 11
ROW_TOP0, ROW_PITCH, STRIP_H, PANEL_H = 58, 253.5, 38, 166
YLIM = (-0.244, 0.228)
for r, (dye, loci) in enumerate(ROWS):
    top = ROW_TOP0 + r * ROW_PITCH
    k = len(loci)
    pw = (X1 - X0 - (k - 1) * GAP) / k
    for j, (name, alleles, box, out) in enumerate(loci):
        x = X0 + j * (pw + GAP)
        strip(x, top, pw, STRIP_H, name, 12.5)
        ax = px_axes(x, top + STRIP_H, pw, PANEL_H)
        draw_panel(ax, alleles, box, out, YLIM, MAIN, j == 0)
    strip(X1, top + STRIP_H, 37, PANEL_H, dye, 12.5, rot=-90)

fig.text(0.5, 1 - 32 / H, 'Allele size range for allelic ladders', ha='center', va='center',
         fontsize=16.5)
fig.text(962 / W, 1 - 1341 / H, 'Allele', ha='center', va='center', fontsize=16.5)
fig.text(33 / W, 1 - 686 / H, 'Deviation from mean (bp)', ha='center', va='center',
         rotation=90, fontsize=16.5)

# zoomed copy of the D10S1248 panel, framed with a black shadowed border
ov = fig.add_axes([0, 0, 1, 1], zorder=5)
ov.set_xlim(0, W)
ov.set_ylim(H, 0)
ov.axis('off')
for k in range(7, 0, -1):
    ov.add_patch(Rectangle((609 - k, 248 - k), W - 609 + 2 * k, 724 + 2 * k, color='black',
                           alpha=0.16, lw=0))
ov.add_patch(Rectangle((609, 248), W - 609, 724, color='black', lw=0))
ov.add_patch(Rectangle((620, 255), 1273, 707, color='white', lw=0))

strip(765, 301, 1120, 103, 'D10S1248', 36, z=6)
iax = px_axes(765, 404, 1120, 450, z=6)
draw_panel(iax, D10S1248_alleles, D10S1248_box, D10S1248_out, (-0.250, 0.232), ZOOM, True)
for lab in iax.get_xticklabels() + iax.get_yticklabels():
    lab.set_color('#333333')

fig.savefig('out.png', dpi=100, facecolor='black')
